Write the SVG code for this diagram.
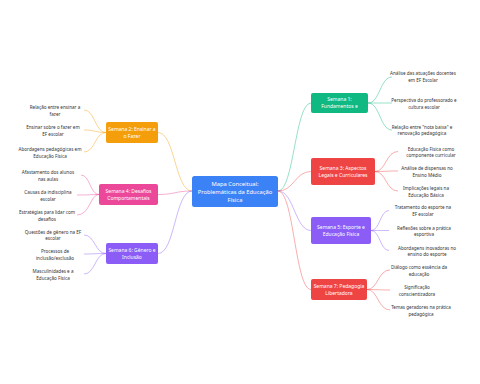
<svg xmlns="http://www.w3.org/2000/svg" width="480" height="384" viewBox="0 0 480 384">
<style>
text{font-family:"Noto Sans","Liberation Sans",sans-serif;text-anchor:middle;dominant-baseline:central}
.leaf{font-size:4.6px;fill:#333}
.wk{font-size:5px;fill:#fff}
.ctr{font-size:5.8px;fill:#fff}
.c{fill:none;stroke-width:0.8;stroke-opacity:0.55}
.g{stroke:#10b981}.o{stroke:#f59e0b}.r{stroke:#ef4444}.p{stroke:#ec4899}.v{stroke:#8b5cf6}
</style>
<rect width="480" height="384" fill="#fff"/>
<g id="connectors">
<path class="c g" d="M278,191 C294,191 295,103 311,103"/>
<path class="c r" d="M278,191 C294,191 295,171.5 311,171.5"/>
<path class="c v" d="M278,191 C294,191 295,230.5 311,230.5"/>
<path class="c r" d="M278,191 C294,191 295,289.5 311,289.5"/>
<path class="c o" d="M192,191 C175,191 175,132.5 158,132.5"/>
<path class="c p" d="M192,191 C175,191 175,194.5 158,194.5"/>
<path class="c v" d="M192,191 C175,191 175,253.5 158,253.5"/>
<path class="c g" d="M368,103 C380,103 380,77 392,77"/>
<path class="c g" d="M368,103 C380,103 380,103 392,103"/>
<path class="c g" d="M368,103 C380,103 380,130 392,130"/>
<path class="c r" d="M375,171.5 C386,171.5 386,151.5 398,151.5"/>
<path class="c r" d="M375,171.5 C386,171.5 386,171 398,171"/>
<path class="c r" d="M375,171.5 C386,171.5 386,191 398,191"/>
<path class="c v" d="M371,230.5 C380,230.5 380,210.5 389,210.5"/>
<path class="c v" d="M371,230.5 C380,230.5 380,230.5 389,230.5"/>
<path class="c v" d="M371,230.5 C380,230.5 380,250.5 389,250.5"/>
<path class="c r" d="M367,289.5 C378,289.5 378,270 390,270"/>
<path class="c r" d="M367,289.5 C378,289.5 378,290 390,290"/>
<path class="c r" d="M367,289.5 C378,289.5 378,310 390,310"/>
<path class="c o" d="M106,132.5 C95,132.5 95,110 84,110"/>
<path class="c o" d="M106,132.5 C95,132.5 95,130 84,130"/>
<path class="c o" d="M106,132.5 C95,132.5 95,152 84,152"/>
<path class="c p" d="M99,194.5 C90,194.5 90,175 81,175"/>
<path class="c p" d="M99,194.5 C90,194.5 90,195 77,195"/>
<path class="c p" d="M99,194.5 C90,194.5 90,215 77,215"/>
<path class="c v" d="M106,253.5 C95,253.5 95,235 84,235"/>
<path class="c v" d="M106,253.5 C95,253.5 95,254 84,254"/>
<path class="c v" d="M106,253.5 C95,253.5 95,274 84,274"/>
</g>
<g id="center">
<rect x="192" y="176" width="86" height="31" rx="2.5" fill="#3b82f6"/>
<text class="ctr" x="235" y="184">Mapa Conceitual:</text>
<text class="ctr" x="235" y="192">Problemáticas da Educação</text>
<text class="ctr" x="235" y="200">Física</text>
</g>
<g id="semana1">
<rect x="311" y="93" width="57" height="20" rx="2" fill="#10b981"/>
<text class="wk" x="339.5" y="99">Semana 1:</text>
<text class="wk" x="339.5" y="106">Fundamentos e</text>
</g>
<g id="semana3">
<rect x="311" y="158" width="64" height="27" rx="2" fill="#ef4444"/>
<text class="wk" x="343" y="168">Semana 3: Aspectos</text>
<text class="wk" x="343" y="175">Legais e Curriculares</text>
</g>
<g id="semana5">
<rect x="311" y="217" width="60" height="27" rx="2" fill="#8b5cf6"/>
<text class="wk" x="341" y="227">Semana 5: Esporte e</text>
<text class="wk" x="341" y="234">Educação Física</text>
</g>
<g id="semana7">
<rect x="311" y="279" width="56" height="21" rx="2" fill="#ef4444"/>
<text class="wk" x="339" y="286">Semana 7: Pedagogia</text>
<text class="wk" x="339" y="293">Libertadora</text>
</g>
<g id="semana2">
<rect x="106" y="122" width="52" height="21" rx="2" fill="#f59e0b"/>
<text class="wk" x="132" y="129">Semana 2: Ensinar a</text>
<text class="wk" x="132" y="136">o Fazer</text>
</g>
<g id="semana4">
<rect x="99" y="184" width="59" height="21" rx="2" fill="#ec4899"/>
<text class="wk" x="128.5" y="191">Semana 4: Desafios</text>
<text class="wk" x="128.5" y="198">Comportamentais</text>
</g>
<g id="semana6">
<rect x="106" y="243" width="52" height="21" rx="2" fill="#8b5cf6"/>
<text class="wk" x="132" y="250">Semana 6: Gênero e</text>
<text class="wk" x="132" y="257">Inclusão</text>
</g>
<g id="leaf-s1-1"><text class="leaf" x="423" y="73">Análise das atuações docentes</text><text class="leaf" x="423" y="80">em EF Escolar</text></g>
<g id="leaf-s1-2"><text class="leaf" x="424" y="99.5">Perspectiva do professorado e</text><text class="leaf" x="424" y="106.5">cultura escolar</text></g>
<g id="leaf-s1-3"><text class="leaf" x="422" y="126.5">Relação entre "nota baixa" e</text><text class="leaf" x="422" y="133">renovação pedagógica</text></g>
<g id="leaf-s3-1"><text class="leaf" x="431" y="148.5">Educação Física como</text><text class="leaf" x="431" y="155">componente curricular</text></g>
<g id="leaf-s3-2"><text class="leaf" x="427" y="168">Análise de dispensas no</text><text class="leaf" x="427" y="174.5">Ensino Médio</text></g>
<g id="leaf-s3-3"><text class="leaf" x="426" y="188">Implicações legais na</text><text class="leaf" x="426" y="194.5">Educação Básica</text></g>
<g id="leaf-s5-1"><text class="leaf" x="423" y="207">Tratamento do esporte na</text><text class="leaf" x="423" y="214">EF escolar</text></g>
<g id="leaf-s5-2"><text class="leaf" x="424" y="227.5">Reflexões sobre a prática</text><text class="leaf" x="424" y="234">esportiva</text></g>
<g id="leaf-s5-3"><text class="leaf" x="427" y="247.5">Abordagens inovadoras no</text><text class="leaf" x="427" y="254">ensino do esporte</text></g>
<g id="leaf-s7-1"><text class="leaf" x="419" y="267">Diálogo como essência da</text><text class="leaf" x="419" y="273.5">educação</text></g>
<g id="leaf-s7-2"><text class="leaf" x="417" y="287">Significação</text><text class="leaf" x="417" y="293.5">conscientizadora</text></g>
<g id="leaf-s7-3"><text class="leaf" x="421" y="307">Temas geradores na prática</text><text class="leaf" x="421" y="313.5">pedagógica</text></g>
<g id="leaf-s2-1"><text class="leaf" x="55" y="107">Relação entre ensinar a</text><text class="leaf" x="55" y="113.5">fazer</text></g>
<g id="leaf-s2-2"><text class="leaf" x="53" y="127">Ensinar sobre o fazer em</text><text class="leaf" x="53" y="133.5">EF escolar</text></g>
<g id="leaf-s2-3"><text class="leaf" x="50" y="149">Abordagens pedagógicas em</text><text class="leaf" x="50" y="155.5">Educação Física</text></g>
<g id="leaf-s4-1"><text class="leaf" x="48" y="172">Afastamento dos alunos</text><text class="leaf" x="48" y="178.5">nas aulas</text></g>
<g id="leaf-s4-2"><text class="leaf" x="48" y="192">Causas da indisciplina</text><text class="leaf" x="48" y="198.5">escolar</text></g>
<g id="leaf-s4-3"><text class="leaf" x="47" y="212">Estratégias para lidar com</text><text class="leaf" x="47" y="218.5">desafios</text></g>
<g id="leaf-s6-1"><text class="leaf" x="53" y="231.5">Questões de gênero na EF</text><text class="leaf" x="53" y="238">escolar</text></g>
<g id="leaf-s6-2"><text class="leaf" x="55" y="251">Processos de</text><text class="leaf" x="55" y="257.5">inclusão/exclusão</text></g>
<g id="leaf-s6-3"><text class="leaf" x="53" y="271">Masculinidades e a</text><text class="leaf" x="53" y="277.5">Educação Física</text></g>
</svg>
